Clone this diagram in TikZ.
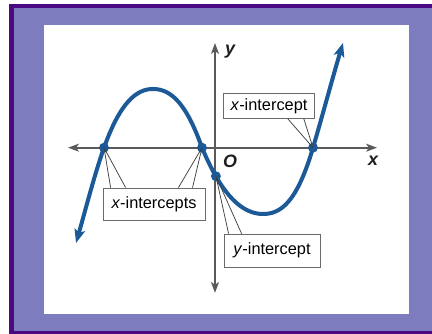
\documentclass[tikz,border=0pt]{standalone}
\usepackage{fontspec}
\setmainfont{Liberation Sans}
\usepackage{tikz}
\usetikzlibrary{arrows.meta,positioning}
\definecolor{frameink}{HTML}{4B0A82}
\definecolor{framefill}{HTML}{7C7CBF}
\definecolor{curveblue}{HTML}{1C5A97}
\definecolor{axisgray}{HTML}{5A5A5A}
\definecolor{boxgray}{HTML}{6A6A6A}
\definecolor{labelink}{HTML}{1E1E1E}

\begin{document}
\begin{tikzpicture}[
  every node/.style={font=\fontsize{15.5}{18}\selectfont,align=center},
  axis/.style={line width=2.2pt,color=axisgray,
               {Stealth[length=3.6mm,width=2.6mm,inset=0.9mm]}-{Stealth[length=3.6mm,width=2.6mm,inset=0.9mm]}},
  curve/.style={line width=3.8pt,color=curveblue,line cap=round,
               {Stealth[length=4.6mm,width=3.6mm,inset=1.1mm]}-{Stealth[length=4.6mm,width=3.6mm,inset=1.1mm]}},
  dot/.style={circle,fill=curveblue,inner sep=0pt,minimum size=3.3mm},
  callout/.style={draw=boxgray,fill=white,line width=0.8pt,inner sep=0pt},
  ptr/.style={line width=0.7pt,color=black!75},
  axlabel/.style={font=\fontsize{17}{20}\selectfont\bfseries\itshape,text=labelink}
]
\useasboundingbox (-7.167,-6.21) rectangle (7.233,4.923);
\clip (-7.167,-6.21) rectangle (7.233,4.923);
% frame and white panel
\draw[line width=4.2pt,draw=frameink,fill=framefill] (-6.79,4.723) rectangle (7.6,-6.177);
\fill[white] (-5.7,4.09) rectangle (6.467,-5.543);
% axes
\draw[axis] (-4.9,0) -- (5.4,0);
\draw[axis] (0,-4.84) -- (0,3.49);
\node[axlabel] (ylab) at (0.5,3.19) {y};
\node[axlabel] (olab) at (0.5,-0.44) {O};
\node[axlabel] (xlab) at (5.27,-0.44) {x};
% the cubic, piece by piece
\draw[curve] (-4.633,-3.177)
  .. controls (-4.322,-2.088) and (-4.011,-0.871) .. (-3.7,0)
  .. controls (-3.156,1.524) and (-2.611,1.957) .. (-2.067,1.957)
  .. controls (-1.45,1.957) and (-0.95,1.45) .. (-0.433,0)
  .. controls (0.245,-1.627) and (0.922,-2.21) .. (1.6,-2.21)
  .. controls (2.156,-2.21) and (2.711,-1.89) .. (3.267,0)
  .. controls (3.6,1.133) and (3.934,2.39) .. (4.267,3.49);
\node[dot] (r1) at (-3.7,0) {};
\node[dot] (r2) at (-0.433,0) {};
\node[dot] (r3) at (3.267,0) {};
\node[dot] (yi) at (0.03,-0.95) {};
% labels
\node[callout,minimum width=3.4cm,minimum height=1.067cm] (xints) at (-2.033,-1.877)
  {\textit{x}-intercepts};
\node[callout,minimum width=3.05cm,minimum height=0.83cm] (xint) at (1.8,1.39)
  {\textit{x}-intercept};
\node[callout,minimum width=3.2cm,minimum height=1.1cm] (yint) at (1.9,-3.43)
  {\textit{y}-intercept};
\draw[ptr] (r1.center) -- ([xshift=0.267cm]xints.north west);
\draw[ptr] (r1.center) -- ([xshift=0.767cm]xints.north west);
\draw[ptr] (r2.center) -- ([xshift=-0.9cm]xints.north east);
\draw[ptr] (r2.center) -- ([xshift=-0.43cm]xints.north east);
\draw[ptr] (r3.center) -- ([xshift=2.167cm]xint.south west);
\draw[ptr] (r3.center) -- ([xshift=2.7cm]xint.south west);
\draw[ptr] (yi.center) -- ([xshift=0.167cm]yint.north west);
\draw[ptr] (yi.center) -- ([xshift=0.6cm]yint.north west);
\end{tikzpicture}
\end{document}
